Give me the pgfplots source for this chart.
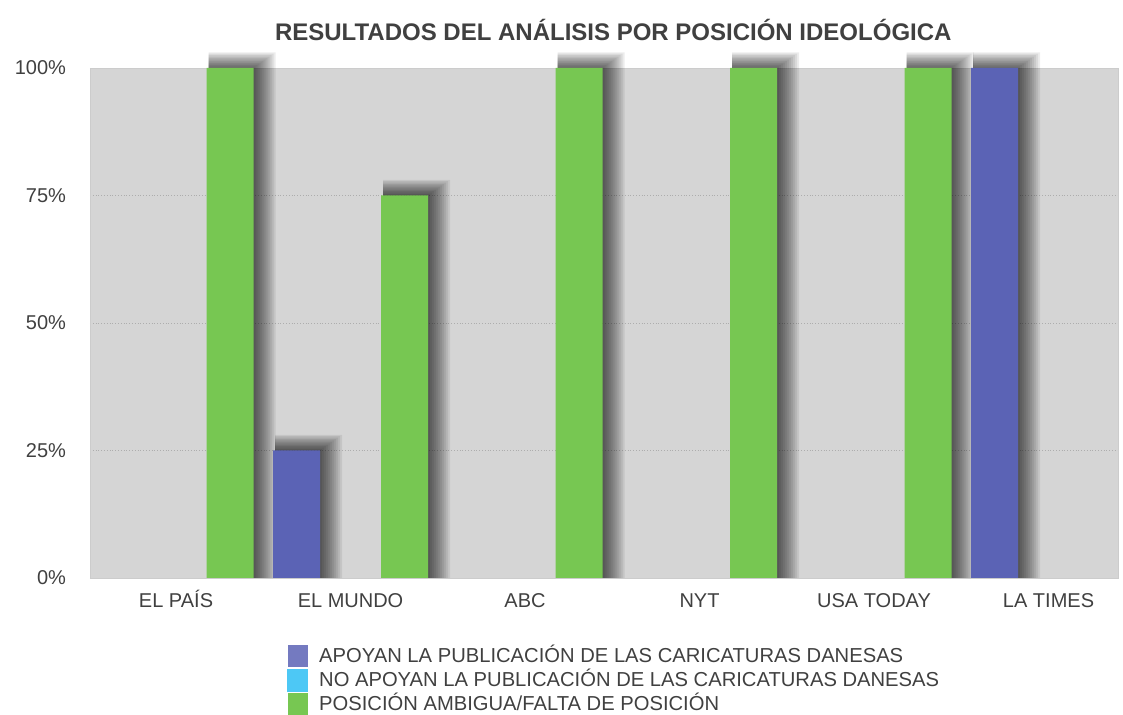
\documentclass[border=0pt]{standalone}
\usepackage{pgfplots}
\pgfplotsset{compat=1.18}
\usepackage{fontspec}
\setmainfont{Liberation Sans}
\definecolor{cblue}{HTML}{5B63B5}
\definecolor{ccyan}{HTML}{4DC8F5}
\definecolor{cgreen}{HTML}{77C752}
\definecolor{cbg}{HTML}{D5D5D5}
\definecolor{ctext}{HTML}{404040}
\pgfplotstableread{
x y
1 25
5 100
}\apoyan
\pgfplotstableread{
x y
0 100
1 75
2 100
3 100
4 100
}\ambigua
\begin{document}
\begin{tikzpicture}
\useasboundingbox (-45pt,-68.5pt) rectangle (516.5pt,289pt);
\begin{axis}[
  at={(0,0)}, anchor=south west,
  scale only axis, width=514pt, height=255pt,
  xmin=-0.493, xmax=5.398, ymin=0, ymax=100,
  clip=false,
  axis background/.style={fill=cbg},
  axis line style={draw=black!20},
  xtick={0,1,2,3,4,5},
  xticklabels={EL PAÍS, EL MUNDO, ABC, NYT, USA TODAY, LA TIMES},
  ytick={0,25,50,75,100},
  yticklabel={\pgfmathprintnumber{\tick}\%},
  /pgf/number format/assume math mode=true,
  major tick length=0pt,
  tick style={draw=none},
  ymajorgrids, grid style={densely dotted, black!32},
  ticklabel style={font=\fontsize{10}{12}\selectfont, text=ctext},
  xticklabel style={yshift=-3pt, text height=8pt, text depth=2pt},
  yticklabel style={xshift=-8.5pt},
  ybar, bar width=23.5pt,
  legend cell align=left,
  legend style={at={(axis description cs:0.1916,-0.1294)}, anchor=north west,
    draw=none, fill=none, inner sep=0pt, row sep=0pt, column sep=4.5pt,
    font=\fontsize{10.1}{12}\selectfont, text=ctext,
    nodes={inner sep=1pt, text height=8pt, text depth=2pt}},
]
% soft shadows (layers of the same bars)
\pgfplotsinvokeforeach{0,1,2,3,4,5,6,7,8,9,10,11}{
  \addplot[forget plot, fill=black, fill opacity=0.075, draw=none, bar width={22.5pt+#1pt},
    bar shift={-26.5pt+0.5*#1pt}, y filter/.expression={y+0.28*#1}] table[x=x,y=y] {\apoyan};
  \addplot[forget plot, fill=black, fill opacity=0.075, draw=none, bar width={22.5pt+#1pt},
    bar shift={27.5pt+0.5*#1pt}, y filter/.expression={y+0.28*#1}] table[x=x,y=y] {\ambigua};
}
\addplot[fill=cblue, draw=none, bar shift=-27pt,
  legend image code/.code={\fill[cblue!85!white] (0pt,-5.5pt) rectangle (10pt,5.5pt);}]
  table[x=x,y=y] {\apoyan};
\addlegendentry{APOYAN LA PUBLICACIÓN DE LAS CARICATURAS DANESAS}
\addlegendimage{legend image code/.code={\fill[ccyan] (0pt,-5.5pt) rectangle (10pt,5.5pt);}}
\addlegendentry{NO APOYAN LA PUBLICACIÓN DE LAS CARICATURAS DANESAS}
\addplot[fill=cgreen, draw=none, bar shift=27pt,
  legend image code/.code={\fill[cgreen] (0pt,-5.5pt) rectangle (10pt,5.5pt);}]
  table[x=x,y=y] {\ambigua};
\addlegendentry{POSICIÓN AMBIGUA/FALTA DE POSICIÓN}
\node[font=\bfseries\fontsize{12}{14}\selectfont, text=ctext] at (axis description cs:0.509,1.0745) {RESULTADOS DEL ANÁLISIS POR POSICIÓN IDEOLÓGICA};
\end{axis}
\end{tikzpicture}
\end{document}
